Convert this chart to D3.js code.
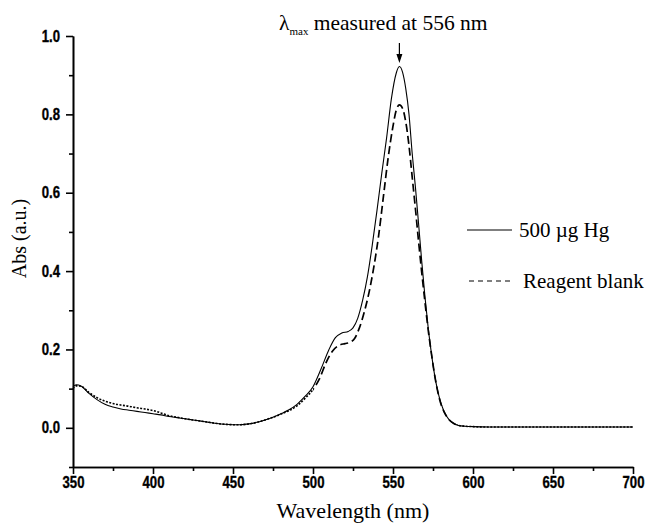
<!DOCTYPE html>
<html><head><meta charset="utf-8">
<script src="https://cdn.jsdelivr.net/npm/d3@7"></script>
<style>body{margin:0;background:#fff}</style>
</head><body><svg id="c" width="646" height="527"></svg>
<script>
// ---- data ----
const hgWavelengths = [350,352,355,360,365,370,375,380,385,390,395,400,405,410,415,420,425,430,435,440,445,450,455,460,465,470,475,480,485,490,495,500,505,510,514,518,522,525,528,531,534,537,540,543,546,549,552,554,556,558,560,562,564,566,568,570,572,574,576,578,580,582,585,588,591,595,600,610,650,700];
const hgAbs = [0.105,0.110,0.107,0.088,0.072,0.060,0.053,0.048,0.045,0.042,0.039,0.036,0.033,0.029,0.026,0.023,0.020,0.017,0.014,0.011,0.009,0.008,0.008,0.010,0.014,0.020,0.027,0.036,0.046,0.060,0.080,0.105,0.150,0.200,0.230,0.242,0.246,0.255,0.280,0.325,0.385,0.465,0.555,0.650,0.740,0.840,0.905,0.922,0.907,0.865,0.800,0.700,0.615,0.520,0.423,0.334,0.255,0.190,0.135,0.093,0.063,0.041,0.021,0.011,0.006,0.004,0.003,0.002,0.002,0.002];
const blankWavelengths = [350,352,355,360,365,370,375,380,385,390,395,400,405,410,415,420,425,430,435,440,445,450,455,460,465,470,475,480,485,490,495,500,504,508,512,516,520,523,526,529,532,535,538,541,544,547,550,552,554,556,558,560,562,564,566,568,570,572,574,576,578,580,582,585,588,591,595,600,610,650,700];
const blankAbs = [0.100,0.107,0.106,0.090,0.077,0.068,0.062,0.058,0.055,0.051,0.048,0.044,0.038,0.031,0.027,0.023,0.020,0.017,0.014,0.011,0.009,0.008,0.008,0.010,0.014,0.020,0.027,0.035,0.044,0.056,0.075,0.098,0.125,0.165,0.195,0.210,0.215,0.218,0.228,0.255,0.295,0.345,0.410,0.490,0.590,0.690,0.770,0.810,0.824,0.815,0.780,0.720,0.640,0.560,0.475,0.395,0.320,0.250,0.190,0.135,0.092,0.060,0.040,0.021,0.011,0.006,0.004,0.003,0.002,0.002,0.002];
const seriesNames = ["500 \u00b5g Hg", "Reagent blank"];
const xMajorTicks = [350,400,450,500,550,600,650,700];
const xMinorTicks = [375,425,475,525,575,625,675];
const yMajorTicks = [0.0,0.2,0.4,0.6,0.8,1.0];
const yMinorTicks = [-0.1,0.1,0.3,0.5,0.7,0.9];
const peakWavelength = 554;
const annotationText = " measured at 556 nm";
const xTitle = "Wavelength (nm)";
const yTitle = "Abs (a.u.)";

// ---- layout ----
const svg = d3.select("#c");
const L = 73, R = 633, T = 36, B = 467;
const x = d3.scaleLinear().domain([350,700]).range([L,R]);
const y = d3.scaleLinear().domain([-0.1,1.0]).range([B,T]);
const tickFont = "'Liberation Sans',Arial,sans-serif";
const serif = "'Liberation Serif','Times New Roman',serif";
const SX = 0.82;

function styleAxis(g){
  g.select(".domain").attr("stroke","#000").attr("stroke-width",1.6);
  g.selectAll(".tick line").attr("stroke","#000").attr("stroke-width",1.6);
  g.selectAll(".tick text")
    .style("font-family",tickFont).style("font-weight","700").style("font-size","16px")
    .attr("fill","#000").attr("stroke","#000").attr("stroke-width",0.35);
}
// x axis
svg.append("g").attr("transform",`translate(0,${B})`)
  .call(d3.axisBottom(x).tickValues(xMinorTicks).tickSize(4).tickSizeOuter(0).tickFormat(""))
  .call(styleAxis);
const xg = svg.append("g").attr("transform",`translate(0,${B})`)
  .call(d3.axisBottom(x).tickValues(xMajorTicks).tickSize(7).tickSizeOuter(0).tickPadding(3).tickFormat(d3.format("d")))
  .call(styleAxis);
xg.selectAll(".tick text").attr("transform",`scale(${SX},1)`);
// y axis
svg.append("g").attr("transform",`translate(${L},0)`)
  .call(d3.axisLeft(y).tickValues(yMinorTicks).tickSize(4).tickSizeOuter(0).tickFormat(""))
  .call(styleAxis);
const yg = svg.append("g").attr("transform",`translate(${L},0)`)
  .call(d3.axisLeft(y).tickValues(yMajorTicks).tickSize(7).tickSizeOuter(0).tickPadding(6).tickFormat(d3.format(".1f")))
  .call(styleAxis);
yg.selectAll(".tick text").attr("x",-13/SX).attr("transform",`scale(${SX},1)`);

// clip regions for the blank series dash style
const defs = svg.append("defs");
defs.append("clipPath").attr("id","steep").append("rect")
  .attr("x",x(500)).attr("y",0).attr("width",x(590)-x(500)).attr("height",527);
const flat = defs.append("clipPath").attr("id","flat");
flat.append("rect").attr("x",0).attr("y",0).attr("width",x(500)).attr("height",527);
flat.append("rect").attr("x",x(590)).attr("y",0).attr("width",646-x(590)).attr("height",527);

// lines
const line = d3.line().x(d=>x(d[0])).y(d=>y(d[1])).curve(d3.curveMonotoneX);
const blankData = d3.zip(blankWavelengths, blankAbs);
svg.append("path").datum(blankData).attr("clip-path","url(#flat)")
  .attr("d",line).attr("fill","none").attr("stroke","#000").attr("stroke-width",1.6).attr("stroke-dasharray","2,1.5");
svg.append("path").datum(blankData).attr("clip-path","url(#steep)")
  .attr("d",line).attr("fill","none").attr("stroke","#000").attr("stroke-width",1.7).attr("stroke-dasharray","8,4");
svg.append("path").datum(d3.zip(hgWavelengths, hgAbs))
  .attr("d",line).attr("fill","none").attr("stroke","#000").attr("stroke-width",1.1);

// titles
svg.append("text").attr("x",(L+R)/2).attr("y",518).attr("text-anchor","middle")
  .attr("font-family",serif).attr("font-size",22).text(xTitle);
svg.append("text").attr("transform",`translate(26,${(T+B)/2 - 13}) rotate(-90)`).attr("text-anchor","middle")
  .attr("font-family",serif).attr("font-size",20).text(yTitle);

// annotation
const ann = svg.append("text").attr("x",279).attr("y",30).attr("font-family",serif).attr("font-size",21.5);
ann.append("tspan").text("\u03bb");
ann.append("tspan").attr("font-size",11).attr("dy",5).text("max");
ann.append("tspan").attr("dy",-5).text(annotationText);
const ax = x(peakWavelength);
svg.append("line").attr("x1",ax).attr("x2",ax).attr("y1",43).attr("y2",56).attr("stroke","#000").attr("stroke-width",1.2);
svg.append("path").attr("d",d3.line()([[ax-3,54],[ax+3,54],[ax,63]])).attr("fill","#000");

// legend
const lg = svg.append("g");
[[230,237,null,519,467],[281,288,"5,4",523,469]].forEach((r,i)=>{
  lg.append("line").attr("x1",r[4]).attr("x2",512).attr("y1",r[0]).attr("y2",r[0])
    .attr("stroke","#000").attr("stroke-width",1.2).attr("stroke-dasharray",r[2]);
  lg.append("text").attr("x",r[3]).attr("y",r[1]).attr("font-family",serif).attr("font-size",21).text(seriesNames[i]);
});
</script></body></html>
